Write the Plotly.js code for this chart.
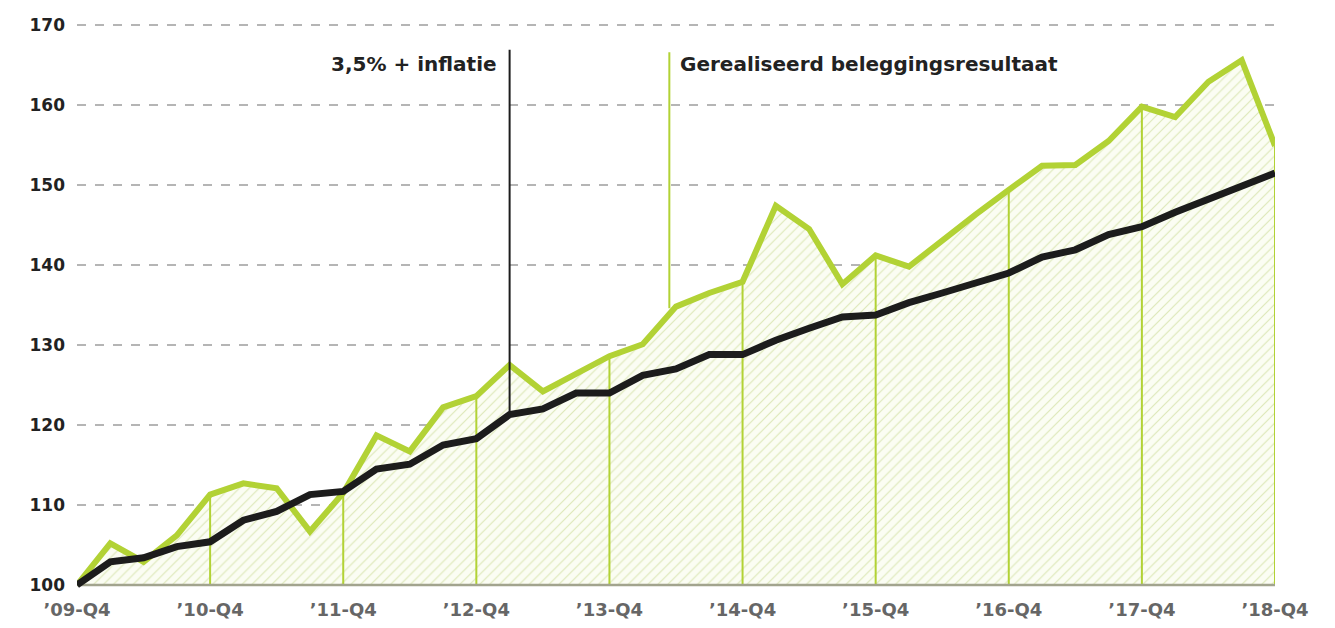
<!DOCTYPE html>
<html>
<head>
<meta charset="utf-8">
<script src="https://cdn.plot.ly/plotly-3.0.1.min.js"></script>
<style>html,body{margin:0;padding:0;background:#fff;}#chart{width:1335px;height:628px;}</style>
</head>
<body>
<div id="chart"></div>
<script>
// Quarter labels (x categories)
const quarters = ["’09-Q4","’10-Q1","’10-Q2","’10-Q3","’10-Q4","’11-Q1","’11-Q2","’11-Q3","’11-Q4",
  "’12-Q1","’12-Q2","’12-Q3","’12-Q4","’13-Q1","’13-Q2","’13-Q3","’13-Q4",
  "’14-Q1","’14-Q2","’14-Q3","’14-Q4","’15-Q1","’15-Q2","’15-Q3","’15-Q4",
  "’16-Q1","’16-Q2","’16-Q3","’16-Q4","’17-Q1","’17-Q2","’17-Q3","’17-Q4",
  "’18-Q1","’18-Q2","’18-Q3","’18-Q4"];
// Gerealiseerd beleggingsresultaat
const resultaat = [100,105.2,102.9,106.2,111.3,112.7,112.1,106.7,111.5,118.7,116.7,122.2,123.6,127.5,124.2,126.3,128.6,130.1,134.8,136.5,137.9,147.4,144.5,137.6,141.2,139.8,143.1,146.3,149.4,152.4,152.5,155.5,159.8,158.5,162.9,165.6,154.9];
// 3,5% + inflatie
const inflatie = [100,102.9,103.4,104.8,105.4,108.1,109.2,111.3,111.7,114.5,115.1,117.5,118.3,121.3,122,124,124,126.2,127,128.8,128.8,130.6,132.1,133.5,133.75,135.3,136.5,137.8,139,141,141.9,143.8,144.8,146.6,148.3,150,151.5];
const tickLabels = ["’09-Q4","’10-Q4","’11-Q4","’12-Q4","’13-Q4","’14-Q4","’15-Q4","’16-Q4","’17-Q4","’18-Q4"];
const yTicks = [100,110,120,130,140,150,160,170];
const baseValue = 100;
const labelInflatie = "3,5% + inflatie";
const labelResultaat = "Gerealiseerd beleggingsresultaat";

const green = "#b2d235";
const black = "#1c1c1c";

const xIdx = quarters.map((q, i) => i);
const tickIdx = tickLabels.map(t => quarters.indexOf(t));
const lastIdx = quarters.length - 1;

// drop lines at each Q4
const dropX = [], dropY = [];
tickIdx.forEach(i => {
  dropX.push(i, i, null);
  dropY.push(baseValue, resultaat[i], null);
});

const idxInfl = 13;      // position of black marker line
const posRes = 17.8;     // position of green marker line

const traces = [
  {x:[0, lastIdx], y:[baseValue, baseValue], mode:"lines",
   line:{width:0, color:"rgba(0,0,0,0)"}, hoverinfo:"skip", showlegend:false},
  {x:xIdx, y:resultaat, mode:"lines", fill:"tonexty",
   fillcolor:"#fbfdf2",
   fillpattern:{shape:"/", fgcolor:"#dde8b8", bgcolor:"#fbfdf3", size:7, solidity:0.16},
   line:{width:0, color:green}, hoverinfo:"skip", showlegend:false},
  {x:dropX, y:dropY, mode:"lines", line:{width:2, color:green}, hoverinfo:"skip", showlegend:false},
  {x:[0, lastIdx], y:[baseValue, baseValue], mode:"lines",
   line:{width:2.5, color:"#a2a48e"}, hoverinfo:"skip", showlegend:false},
  {x:xIdx, y:resultaat, mode:"lines", name:labelResultaat,
   line:{width:6, color:green}, showlegend:false},
  {x:xIdx, y:inflatie, mode:"lines", name:labelInflatie,
   line:{width:7, color:black}, showlegend:false}
];

const fam = "'DejaVu Sans', 'Open Sans', sans-serif";
const layout = {
  width:1335, height:628,
  margin:{l:77, r:60, t:17, b:35},
  paper_bgcolor:"#fff", plot_bgcolor:"#fff",
  showlegend:false,
  font:{family:fam, color:"#222"},
  xaxis:{type:"linear", range:[0, lastIdx], tickvals:tickIdx, ticktext:tickLabels,
    showgrid:false, zeroline:false, showline:false, ticks:"", ticklabelstandoff:4,
    tickfont:{family:fam, size:18, color:"#666", weight:"bold"}},
  yaxis:{range:[99,171], tickvals:yTicks, ticktext:yTicks.map(String),
    showgrid:true, gridcolor:"#b5b5b5", griddash:"dash", gridwidth:1.5,
    zeroline:false, showline:false, ticks:"", ticklabelstandoff:11,
    tickfont:{family:fam, size:17, color:"#222", weight:"bold"}},
  shapes:[
    {type:"line", layer:"above", xref:"x", yref:"y", x0:idxInfl, x1:idxInfl, y0:inflatie[idxInfl], y1:166.9,
     line:{color:black, width:2}},
    {type:"line", layer:"below", xref:"x", yref:"y", x0:posRes, x1:posRes, y0:134.6, y1:166.6,
     line:{color:green, width:2}}
  ],
  annotations:[
    {xref:"x", yref:"y", x:idxInfl, y:165.1, xanchor:"right", yanchor:"middle", xshift:-11,
     text:labelInflatie, showarrow:false, font:{family:fam, size:20, color:"#222", weight:"bold"}},
    {xref:"x", yref:"y", x:posRes, y:165.1, xanchor:"left", yanchor:"middle", xshift:9,
     text:labelResultaat, showarrow:false, font:{family:fam, size:20, color:"#222", weight:"bold"}}
  ]
};

Plotly.newPlot("chart", traces, layout, {displayModeBar:false, staticPlot:true});
</script>
</body>
</html>
